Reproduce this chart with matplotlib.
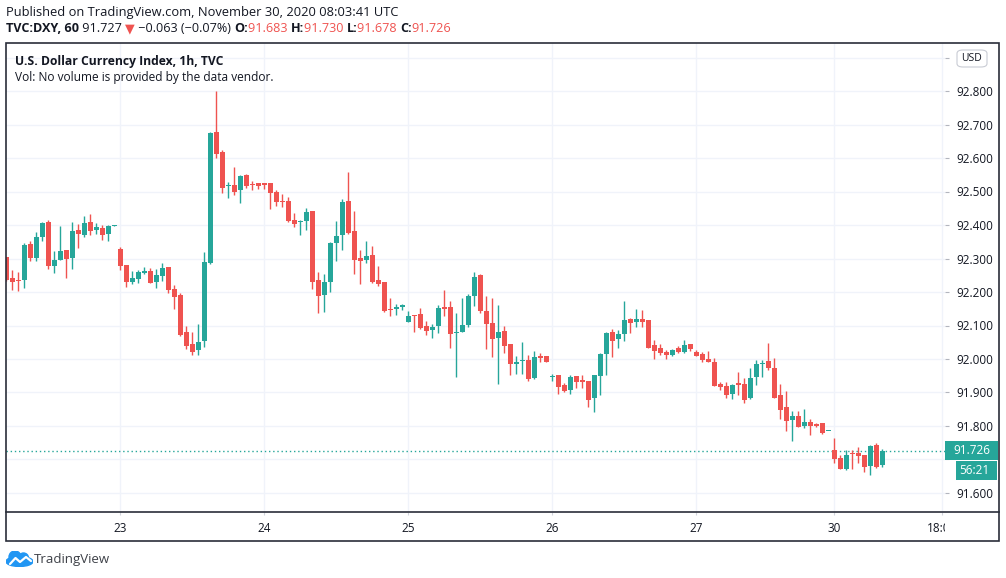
import matplotlib
matplotlib.use("Agg")
import matplotlib.pyplot as plt
import numpy as np
from matplotlib.patches import Rectangle, FancyBboxPatch, Ellipse, Circle
from matplotlib.lines import Line2D
from matplotlib.transforms import Bbox, TransformedBbox

# ── Dati (candele orarie DXY) ─────────────────────────────────────────────────
opens = [92.303, 92.241, 92.235, 92.237, 92.344, 92.302, 92.365, 92.409, 92.277, 92.297,
         92.325, 92.302, 92.385, 92.371, 92.409, 92.385, 92.391, 92.374, 92.398, 92.327,
         92.281, 92.231, 92.240, 92.258, 92.263, 92.231, 92.248, 92.275, 92.209, 92.191,
         92.080, 92.044, 92.026, 92.053, 92.288, 92.677, 92.617, 92.515, 92.519, 92.503,
         92.549, 92.521, 92.524, 92.524, 92.524, 92.500, 92.473, 92.473, 92.416, 92.408,
         92.413, 92.443, 92.236, 92.191, 92.231, 92.345, 92.369, 92.473, 92.383, 92.302,
         92.297, 92.311, 92.236, 92.230, 92.149, 92.149, 92.155, 92.110, 92.131, 92.134,
         92.098, 92.086, 92.098, 92.155, 92.155, 92.077, 92.080, 92.101, 92.188, 92.252,
         92.144, 92.108, 92.064, 92.084, 92.045, 91.986, 91.994, 91.997, 91.944, 92.009,
         92.009, 91.945, 91.952, 91.922, 91.908, 91.949, 91.937, 91.934, 91.884, 91.950,
         92.016, 92.080, 92.060, 92.075, 92.119, 92.111, 92.119, 92.116, 92.041, 92.032,
         92.020, 92.011, 92.032, 92.021, 92.044, 92.020, 92.014, 91.999, 91.991, 91.926,
         91.920, 91.896, 91.929, 91.926, 91.885, 91.945, 91.984, 91.995, 91.974, 91.893,
         91.856, 91.819, 91.830, 91.800, 91.812, 91.806, 91.809, 91.785, 91.727, 91.705,
         91.673, 91.718, 91.720, 91.712, 91.682, 91.744, 91.683]
highs = [92.305, 92.265, 92.259, 92.347, 92.352, 92.379, 92.408, 92.415, 92.322, 92.397,
         92.325, 92.408, 92.403, 92.427, 92.433, 92.406, 92.400, 92.400, 92.400, 92.335,
         92.281, 92.263, 92.265, 92.275, 92.271, 92.270, 92.287, 92.275, 92.221, 92.198,
         92.098, 92.080, 92.104, 92.320, 92.678, 92.800, 92.623, 92.528, 92.572, 92.548,
         92.552, 92.530, 92.524, 92.524, 92.524, 92.503, 92.494, 92.485, 92.437, 92.416,
         92.450, 92.443, 92.260, 92.254, 92.350, 92.413, 92.479, 92.557, 92.443, 92.326,
         92.353, 92.338, 92.278, 92.230, 92.182, 92.164, 92.164, 92.143, 92.131, 92.152,
         92.113, 92.104, 92.161, 92.206, 92.173, 92.137, 92.182, 92.194, 92.260, 92.255,
         92.189, 92.183, 92.162, 92.099, 92.045, 92.009, 92.051, 92.012, 92.024, 92.018,
         92.009, 91.955, 91.952, 91.928, 91.952, 91.949, 91.952, 91.934, 91.952, 92.018,
         92.082, 92.089, 92.086, 92.173, 92.122, 92.149, 92.146, 92.116, 92.056, 92.045,
         92.026, 92.029, 92.038, 92.056, 92.044, 92.026, 92.020, 92.023, 92.002, 91.932,
         91.932, 91.926, 91.962, 91.944, 91.974, 91.998, 91.998, 92.049, 92.004, 91.926,
         91.905, 91.846, 91.846, 91.851, 91.821, 91.809, 91.809, 91.786, 91.764, 91.714,
         91.727, 91.727, 91.738, 91.712, 91.742, 91.749, 91.730]
lows = [92.232, 92.207, 92.203, 92.212, 92.293, 92.293, 92.353, 92.269, 92.257, 92.295,
        92.242, 92.269, 92.332, 92.365, 92.371, 92.374, 92.356, 92.353, 92.398, 92.267,
        92.214, 92.225, 92.228, 92.255, 92.228, 92.213, 92.233, 92.198, 92.150, 92.070,
        92.031, 92.011, 92.012, 92.036, 92.285, 92.600, 92.495, 92.480, 92.489, 92.466,
        92.510, 92.505, 92.507, 92.507, 92.447, 92.456, 92.453, 92.408, 92.393, 92.371,
        92.386, 92.210, 92.138, 92.141, 92.201, 92.294, 92.324, 92.372, 92.255, 92.225,
        92.288, 92.228, 92.218, 92.141, 92.128, 92.131, 92.146, 92.110, 92.080, 92.089,
        92.071, 92.062, 92.077, 92.128, 92.032, 91.946, 92.080, 92.095, 92.158, 92.136,
        92.031, 92.007, 91.926, 92.019, 91.953, 91.956, 91.956, 91.935, 91.941, 91.991,
        91.990, 91.935, 91.896, 91.902, 91.896, 91.914, 91.914, 91.857, 91.842, 91.893,
        91.953, 92.006, 92.033, 92.054, 92.078, 92.096, 92.095, 92.033, 92.000, 92.011,
        91.999, 92.008, 92.017, 92.018, 92.023, 92.008, 91.990, 91.990, 91.919, 91.908,
        91.884, 91.882, 91.894, 91.870, 91.882, 91.921, 91.945, 91.966, 91.885, 91.822,
        91.786, 91.756, 91.798, 91.795, 91.774, 91.798, 91.777, 91.785, 91.689, 91.673,
        91.670, 91.673, 91.691, 91.664, 91.655, 91.676, 91.678]
closes = [92.237, 92.231, 92.233, 92.340, 92.302, 92.364, 92.406, 92.278, 92.297, 92.322,
          92.299, 92.382, 92.374, 92.406, 92.383, 92.393, 92.371, 92.397, 92.400, 92.278,
          92.229, 92.242, 92.260, 92.263, 92.228, 92.250, 92.272, 92.207, 92.186, 92.073,
          92.038, 92.020, 92.050, 92.290, 92.674, 92.611, 92.509, 92.517, 92.500, 92.546,
          92.516, 92.519, 92.516, 92.520, 92.495, 92.468, 92.468, 92.413, 92.403, 92.413,
          92.440, 92.231, 92.189, 92.230, 92.347, 92.368, 92.470, 92.375, 92.297, 92.292,
          92.308, 92.230, 92.224, 92.144, 92.147, 92.155, 92.161, 92.128, 92.128, 92.092,
          92.083, 92.095, 92.152, 92.149, 92.074, 92.080, 92.101, 92.188, 92.246, 92.142,
          92.103, 92.061, 92.081, 92.040, 91.986, 91.991, 91.996, 91.941, 92.006, 92.003,
          91.992, 91.947, 91.917, 91.905, 91.946, 91.932, 91.932, 91.878, 91.952, 92.015,
          92.078, 92.054, 92.074, 92.116, 92.108, 92.119, 92.111, 92.033, 92.024, 92.017,
          92.012, 92.026, 92.020, 92.041, 92.029, 92.010, 91.996, 91.990, 91.920, 91.915,
          91.894, 91.923, 91.921, 91.879, 91.944, 91.986, 91.989, 91.972, 91.885, 91.849,
          91.816, 91.830, 91.798, 91.812, 91.801, 91.801, 91.780, 91.786, 91.700, 91.673,
          91.714, 91.715, 91.709, 91.679, 91.739, 91.679, 91.726]

day_idx = [19, 43, 67, 91, 115, 138, 156]
day_labels = ["23", "24", "25", "26", "27", "30", "18:00"]
price_ticks = [91.6, 91.7, 91.8, 91.9, 92.0, 92.1, 92.2, 92.3, 92.4, 92.5, 92.6, 92.7, 92.8, 92.9]
hidden_ticks = [91.7, 92.9]   # coperti da etichetta prezzo / box USD
last_price = 91.726
countdown = "56:21"

# ── Stile ─────────────────────────────────────────────────────────────────────
W, H = 1006, 578
GREEN = "#26a69a"
RED = "#ef5350"
GRID = "#f0f3fa"
INK = "#131722"
FONT = "Open Sans"


def fx(x):
    return x / W


def fy(y):
    return 1 - y / H


fig = plt.figure(figsize=(W / 100, H / 100), dpi=100)
fig.patch.set_facecolor("white")

X0, X1, Y0, Y1 = 6.3, 945.0, 42.5, 512.0
ax = fig.add_axes([fx(X0), fy(Y1), (X1 - X0) / W, (Y1 - Y0) / H])
ax.set_xlim(0, (X1 - X0) / 6.0)
ax.set_ylim(92.8 - (Y1 - 91) / 335, 92.8 + (91 - Y0) / 335)
for s in ax.spines.values():
    s.set_visible(False)

# griglia
for p in price_ticks:
    ax.axhline(p, color=GRID, lw=1, zorder=0)
for d in day_idx:
    ax.axvline(d, color=GRID, lw=1, zorder=0)

# candele
o = np.array(opens)
h = np.array(highs)
l = np.array(lows)
c = np.array(closes)
idx = np.arange(len(o))
cols = np.where(c >= o, GREEN, RED)
ax.vlines(idx, l, h, colors=cols, lw=1, zorder=2)
body_lo = np.minimum(o, c)
body_h = np.maximum(np.abs(c - o), 0.003)
ax.bar(idx, body_h, bottom=body_lo, width=0.78, color=cols, linewidth=0, zorder=3)

# linea ultimo prezzo
ax.axhline(last_price, color=GREEN, lw=1, ls=(0, (1, 2)), zorder=1)

# asse prezzi a destra
ax.yaxis.tick_right()
ax.set_yticks(price_ticks)
ax.set_yticklabels(["" if p in hidden_ticks else f"{p:.3f}" for p in price_ticks],
                   fontsize=8.5, color=INK, family=FONT)
ax.tick_params(axis="y", length=3, color="#b2b5be", pad=5)
ax.set_xticks(day_idx)
ax.set_xticklabels([])
ax.tick_params(axis="x", length=2.5, color="#d1d4dc")

# etichette giorni (l'ultima tagliata dall'asse prezzi)
xt = ax.get_xaxis_transform()
clip = TransformedBbox(Bbox([[0, 0], [X1 / W, 1]]), fig.transFigure)
for d, lab in zip(day_idx, day_labels):
    t = ax.text(d, (Y1 - 528) / (Y1 - Y0), lab, transform=xt, ha="center", va="center",
                fontsize=8.5, color=INK, family=FONT, clip_on=False)
    if lab == "18:00":
        t.set_clip_box(clip)
        t.set_clip_on(True)

# cornice esterna
fig.add_artist(Rectangle((fx(X0), fy(541)), (999 - X0) / W, (541 - Y0) / H,
                         transform=fig.transFigure, fill=False, ec="#2a2e39", lw=1.2))
fig.add_artist(Line2D([fx(X0), fx(999)], [fy(Y1), fy(Y1)], transform=fig.transFigure,
                      color="#2a2e39", lw=1.2))

# etichetta ultimo prezzo + countdown
fig.add_artist(Rectangle((fx(945), fy(460)), 53 / W, 19 / H, transform=fig.transFigure,
                         fc=GREEN, ec="none"))
fig.text(fx(972), fy(450.5), f"{last_price:.3f}", color="white", fontsize=8.5,
         family=FONT, ha="center", va="center")
fig.add_artist(Rectangle((fx(956), fy(480)), 41 / W, 19 / H, transform=fig.transFigure,
                         fc=GREEN, ec="none"))
fig.text(fx(974), fy(470), countdown, color="white", fontsize=8.5, family=FONT,
         ha="center", va="center")

# box valuta
fig.add_artist(FancyBboxPatch((fx(957), fy(67)), 30 / W, 17 / H,
                              boxstyle="round,pad=0,rounding_size=0.006",
                              transform=fig.transFigure, fc="white", ec="#c9ccd4", lw=0.8))
fig.text(fx(972), fy(58.5), "USD", fontsize=7.5, color=INK, family=FONT,
         ha="center", va="center")

# titoli interni
fig.text(fx(15), fy(61), "U.S. Dollar Currency Index, 1h, TVC", fontsize=8.75, color=INK,
         family=FONT, weight="bold", va="center")
fig.text(fx(15), fy(77.5), "Vol: No volume is provided by the data vendor.", fontsize=8.6,
         color=INK, family=FONT, va="center")

# intestazione
fig.text(fx(6), fy(12.5), "Published on TradingView.com, November 30, 2020 08:03:41 UTC",
         fontsize=9.3, color=INK, family=FONT, va="center")

segments = [
    ("TVC:DXY, 60", INK, "bold"), (" 91.727 ", INK, "normal"), ("▼", RED, "normal"),
    (" \u22120.063 (\u22120.07%) ", INK, "normal"),
    ("O:", INK, "bold"), ("91.683 ", RED, "normal"),
    ("H:", INK, "bold"), ("91.730 ", RED, "normal"),
    ("L:", INK, "bold"), ("91.678 ", RED, "normal"),
    ("C:", INK, "bold"), ("91.726", RED, "normal"),
]
renderer = fig.canvas.get_renderer()
xpos = 6.0
for txt, col, wt in segments:
    t = fig.text(fx(xpos), fy(29), txt, fontsize=9.1, color=col, weight=wt,
                 family=[FONT, "DejaVu Sans"], va="center")
    xpos += t.get_window_extent(renderer).width

# logo TradingView
lax = fig.add_axes([fx(6), fy(567), 27 / W, 16 / H])
lax.set_xlim(0, 27)
lax.set_ylim(0, 16)
lax.axis("off")
blue = "#2196f3"
lax.add_patch(Ellipse((13.5, 5.5), 27, 10, color=blue))
lax.add_patch(Circle((9, 10), 6, color=blue))
lax.add_patch(Circle((17.5, 9), 5, color=blue))
lax.plot([4, 9.5, 14, 20, 25], [3, 9, 5, 10, 6], color="white", lw=1.6,
         solid_capstyle="round")
fig.text(fx(34), fy(560), "TradingView", fontsize=9.5, color="#3d4047", family=FONT,
         va="center")

fig.savefig("out.png", dpi=100)
